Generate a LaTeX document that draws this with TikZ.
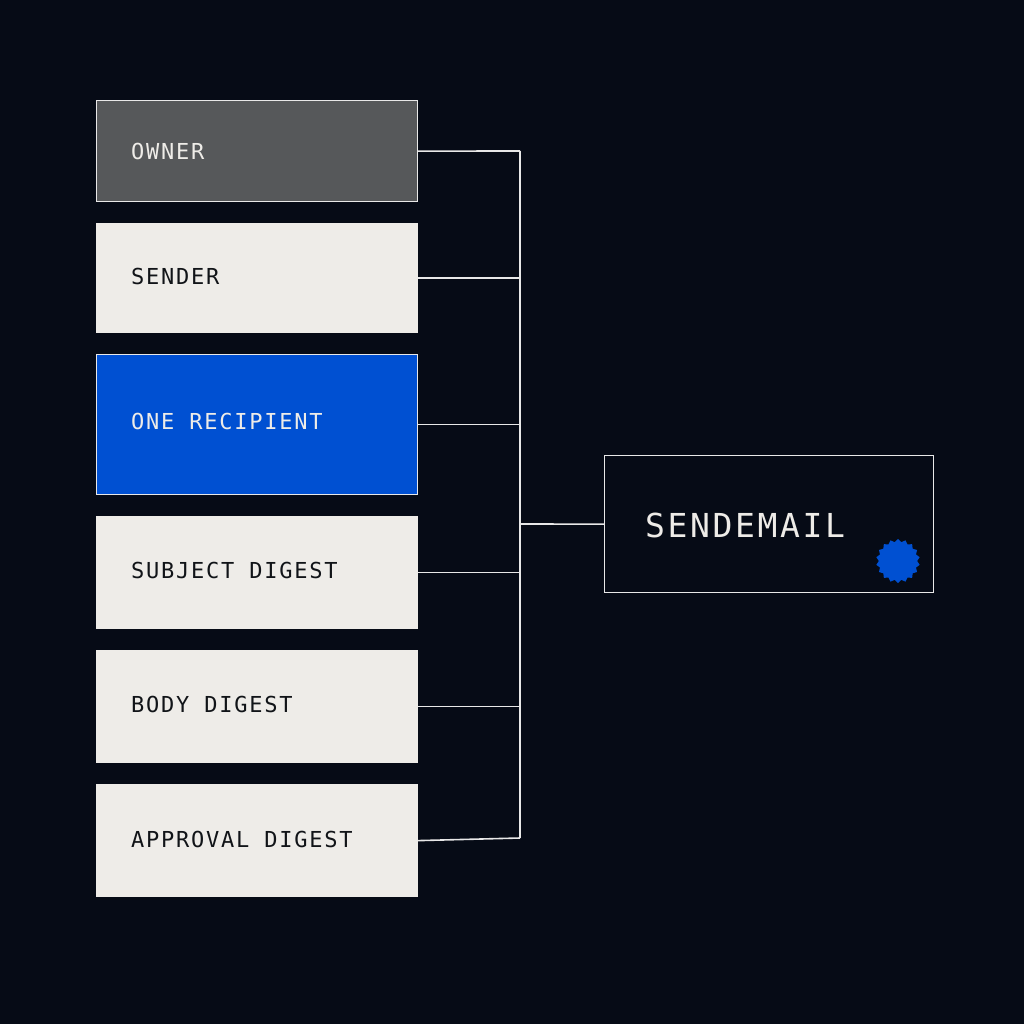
\documentclass[tikz,border=0pt]{standalone}
\usepackage{fontspec}
\setmonofont[LetterSpace=8]{DejaVu Sans Mono}
\usetikzlibrary{shapes.geometric}
\definecolor{bg}{HTML}{060B16}
\definecolor{paper}{HTML}{EEECE8}
\definecolor{slate}{HTML}{56585A}
\definecolor{blu}{HTML}{0050D2}
\definecolor{ink}{HTML}{111418}
\definecolor{wire}{HTML}{E8E8E8}
\begin{document}
\begin{tikzpicture}[x=0.5pt,y=-0.5pt,
 box/.style={draw=wire,line width=0.6pt,minimum width=160.5pt,anchor=north west,inner sep=0pt},
 lbl/.style={anchor=west,font=\ttfamily\fontsize{11}{12}\selectfont},
 wire/.style={draw=wire,line width=0.8pt}]
\fill[bg] (0,0) rectangle (1024,1024);
\useasboundingbox (0,0) rectangle (1024,1024);
\node[box,fill=slate,minimum height=50.5pt] (owner) at (96,100) {};
\node[box,fill=paper,draw=paper,minimum height=54.5pt] (sender) at (96,223) {};
\node[box,fill=blu,minimum height=70pt] (recip) at (96,354) {};
\node[box,fill=paper,draw=paper,minimum height=56pt] (subj) at (96,516) {};
\node[box,fill=paper,draw=paper,minimum height=56pt] (body) at (96,650) {};
\node[box,fill=paper,draw=paper,minimum height=56pt] (appr) at (96,784) {};
\node[lbl,text=paper] at (124,151) {OWNER};
\node[lbl,text=ink] at (124,276) {SENDER};
\node[lbl,text=paper] at (124,421) {ONE RECIPIENT};
\node[lbl,text=ink] at (124,570) {SUBJECT DIGEST};
\node[lbl,text=ink] at (124,704) {BODY DIGEST};
\node[lbl,text=ink] at (124,839) {APPROVAL DIGEST};
\node[box,fill=bg,minimum width=164.5pt,minimum height=68.5pt] (send) at (604,455) {};
\node[lbl,text=paper,font=\ttfamily\fontsize{16.5}{18}\selectfont] at (638,525) {SENDEMAIL};
\node[star,star points=18,star point ratio=1.15,fill=blu,minimum size=22pt,inner sep=0pt] (seal) at (898,561) {};
\coordinate (bt) at (520,151);
\coordinate (bb) at (520,838);
\coordinate (bm) at (520,524);
\draw[wire] (bt) -- (bb);
\draw[wire] (owner.east) -- (bt);
\draw[wire] (sender.east) -- (sender.east -| bt);
\draw[wire] (recip.east) -- (recip.east -| bt);
\draw[wire] (subj.east) -- (subj.east -| bt);
\draw[wire] (body.east) -- (body.east -| bt);
\draw[wire] (appr.east) -- (bb);
\draw[wire] (bm) -- (send.west);
\end{tikzpicture}
\end{document}
